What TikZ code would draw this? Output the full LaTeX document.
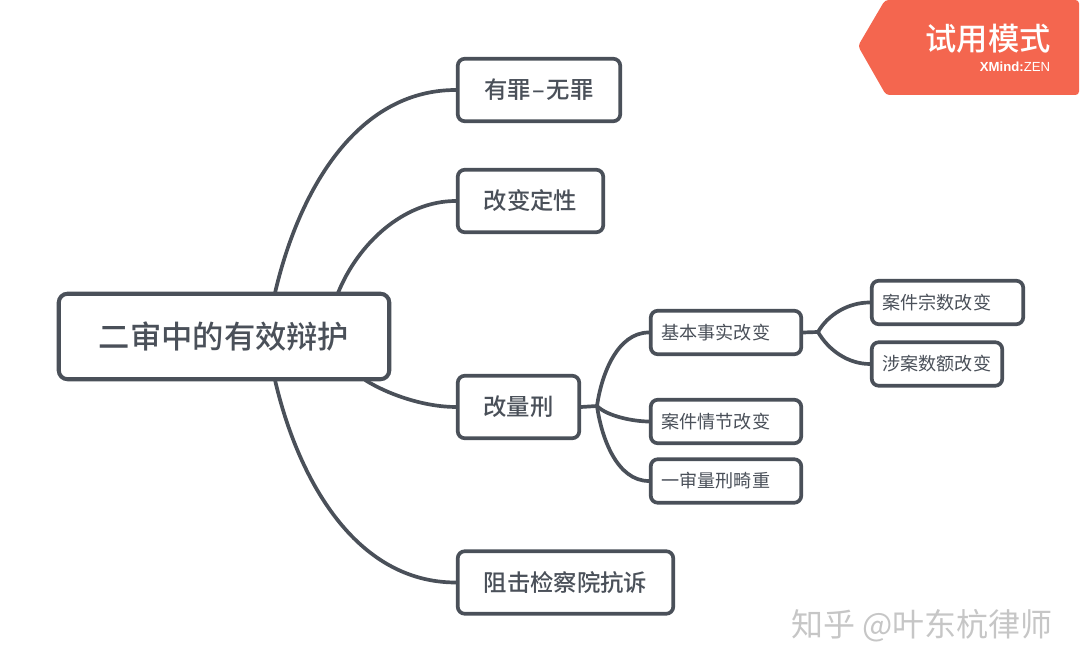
\documentclass[tikz,border=0pt]{standalone}
\usepackage{fontspec}
\usepackage{xcolor}
\setmainfont{Noto Sans CJK SC}
\newfontfamily\cjkmedium{Noto Sans CJK SC Medium}
\newfontfamily\latinfont{Liberation Sans}

\definecolor{inkgrey}{HTML}{4A5059}
\definecolor{badgered}{HTML}{F4664F}
\definecolor{markgrey}{HTML}{C6C6C6}

\tikzset{
	rootbox/.style={draw=inkgrey, line width=2.3pt, rounded corners=5pt, fill=white, text=inkgrey, font=\fontsize{17.8}{20}\cjkmedium, minimum width=6.61cm, minimum height=1.71cm},
	mainbox/.style={draw=inkgrey, line width=2.1pt, rounded corners=4pt, fill=white, text=inkgrey, font=\fontsize{13.3}{16}\cjkmedium, minimum height=1.25cm},
	subbox/.style={draw=inkgrey, line width=2.1pt, rounded corners=4pt, fill=white, text=inkgrey, font=\fontsize{10.3}{13}\selectfont, minimum height=0.87cm, inner xsep=0.215cm, align=left},
	link/.style={draw=inkgrey, line width=2.1pt},
}

\begin{document}
\begin{tikzpicture}
	\useasboundingbox (0, 0) rectangle (21.6, 13.4);

	% Trial badge in the corner
	\fill[badgered, rounded corners=2pt] (17.16, 12.48) -- (17.70, 13.40) -- (21.58, 13.40) -- (21.58, 11.50) -- (17.72, 11.50) -- cycle;
	\node[text=white, font=\fontsize{17.8}{20}\cjkmedium] (trial) at (19.76, 12.62) {试用模式};
	\node[text=white, font=\fontsize{7.5}{9}\latinfont] (brand) at (20.30, 12.06) {\textbf{XMind:}ZEN};

	% Define the nodes with specific positions
	\node[rootbox] (root) at (4.48, 6.67) {二审中的有效辩护};

	\node[mainbox, minimum width=3.25cm] (guilt) at (10.78, 11.60) {有罪\kern0.8pt–\kern0.8pt无罪};
	\node[mainbox, minimum width=2.91cm] (nature) at (10.61, 9.38) {改变定性};
	\node[mainbox, minimum width=2.43cm] (penalty) at (10.37, 5.26) {改量刑};
	\node[mainbox, minimum width=4.31cm] (appeal) at (11.31, 1.75) {阻击检察院抗诉};

	\node[subbox, text width=2.58cm] (facts) at (14.52, 6.75) {基本事实改变};
	\node[subbox, text width=2.58cm] (plot) at (14.52, 4.97) {案件情节改变};
	\node[subbox, text width=2.58cm] (heavy) at (14.52, 3.78) {一审量刑畸重};
	\node[subbox, text width=2.60cm] (count) at (18.95, 7.35) {案件宗数改变};
	\node[subbox, text width=2.18cm] (amount) at (18.74, 6.12) {涉案数额改变};

	\node[text=markgrey, font=\fontsize{18.2}{22}\selectfont] (mark) at (18.44, 0.88) {知乎 @叶东杭律师};

	% Free ends and forks of the connectors
	\coordinate (rootguilt) at (5.50, 7.54);
	\coordinate (rootnature) at (6.76, 7.54);
	\coordinate (rootpenalty) at (7.30, 5.80);
	\coordinate (rootappeal) at (5.50, 5.80);
	\coordinate (forkpenalty) at (11.94, 5.28);
	\coordinate (forkfacts) at (16.36, 6.76);

	% Draw the edges between nodes
	\draw[link] (rootguilt) to[out=77, in=180, looseness=0.95] (guilt.west);
	\draw[link] (rootnature) to[out=68, in=180, looseness=0.9] (nature.west);
	\draw[link] (rootpenalty) to[out=-32, in=180, looseness=0.8] (penalty.west);
	\draw[link] (rootappeal) to[out=-77, in=180, looseness=0.95] (appeal.west);

	\draw[link] (penalty.east) -- (forkpenalty);
	\draw[link] (forkpenalty) to[out=82, in=180, looseness=0.9] (facts.west);
	\draw[link] (forkpenalty) to[out=-45, in=180, looseness=0.7] (plot.west);
	\draw[link] (forkpenalty) to[out=-82, in=180, looseness=0.9] (heavy.west);

	\draw[link] (facts.east) -- (forkfacts);
	\draw[link] (forkfacts) to[out=60, in=180, looseness=0.9] (count.west);
	\draw[link] (forkfacts) to[out=-60, in=180, looseness=0.9] (amount.west);
\end{tikzpicture}
\end{document}
